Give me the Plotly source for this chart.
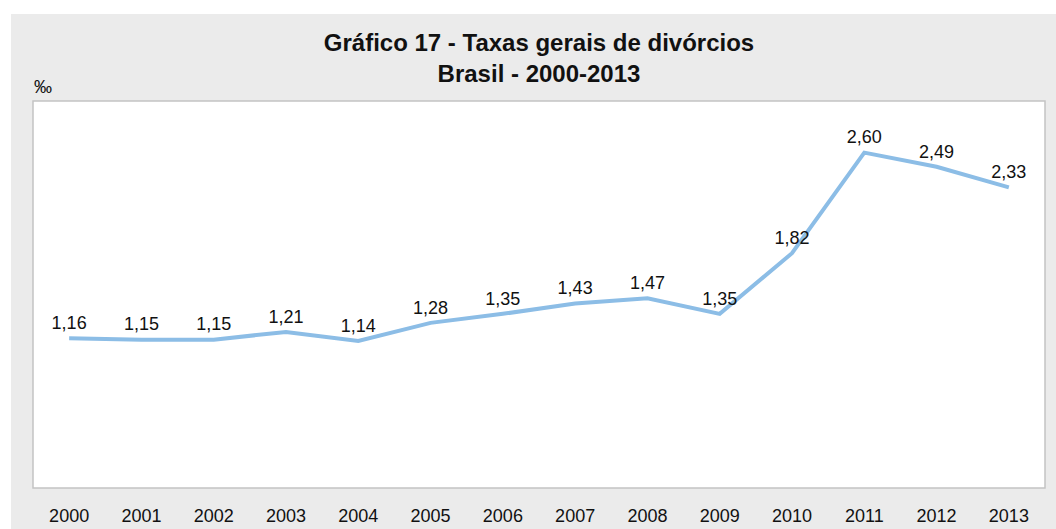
import plotly.graph_objects as go

years = ["2000", "2001", "2002", "2003", "2004", "2005", "2006",
         "2007", "2008", "2009", "2010", "2011", "2012", "2013"]
rates = [1.16, 1.15, 1.15, 1.21, 1.14, 1.28, 1.35,
         1.43, 1.47, 1.35, 1.82, 2.60, 2.49, 2.33]
labels = [f"{v:.2f}".replace(".", ",") for v in rates]

title_text = "Gráfico 17 - Taxas gerais de divórcios<br>Brasil - 2000-2013"
unit_text = "‰"

W, H = 1056, 529
ML, MR, MT, MB = 33, 11, 101, 41
PW, PH = W - ML - MR, H - MT - MB

def px_x(p):
    return (p - ML) / PW

def px_y(p):
    return (H - MB - p) / PH

FONT = "Liberation Sans, Arial, Helvetica, sans-serif"

fig = go.Figure()
fig.add_trace(go.Scatter(
    x=years, y=rates, mode="lines+markers+text",
    text=labels, textposition="top center",
    textfont=dict(size=18, color="#111111", family=FONT),
    line=dict(color="#8CBDE6", width=4),
    marker=dict(size=6, color="rgba(0,0,0,0)"),
    hoverinfo="skip", cliponaxis=False,
))

fig.update_layout(
    width=W, height=H,
    margin=dict(l=ML, r=MR, t=MT, b=MB, pad=0, autoexpand=False),
    paper_bgcolor="white",
    plot_bgcolor="rgba(0,0,0,0)",
    showlegend=False,
    font=dict(family=FONT, color="#111111"),
    title=dict(
        text="<b>" + title_text.replace("<br>", "</b><br><b>") + "</b>",
        x=0.5, xref="paper", xanchor="center",
        y=1 - 51 / H, yref="container", yanchor="top",
        font=dict(size=24, color="#111111", family=FONT),
    ),
    xaxis=dict(
        type="category", range=[-0.5, 13.5], automargin=False,
        showgrid=False, showline=False, zeroline=False, ticks="",
        tickfont=dict(size=18, color="#111111", family=FONT),
        ticklabelstandoff=15, fixedrange=True,
    ),
    yaxis=dict(
        range=[0, 3.0], showgrid=False, showline=False, zeroline=False,
        showticklabels=False, ticks="", fixedrange=True, automargin=False,
    ),
    shapes=[
        dict(type="rect", xref="paper", yref="paper", layer="below",
             x0=px_x(11), x1=px_x(W + 5), y0=px_y(H + 5), y1=px_y(14),
             fillcolor="#EBEBEB", line=dict(width=0)),
        dict(type="rect", xref="paper", yref="paper", layer="below",
             x0=0, x1=1, y0=0, y1=1,
             fillcolor="white", line=dict(color="#C4C4C4", width=1.5)),
    ],
    annotations=[
        dict(text=unit_text, xref="paper", yref="paper",
             x=px_x(32), y=px_y(87), xanchor="left", yanchor="middle",
             showarrow=False, font=dict(size=18, color="#111111", family=FONT)),
    ],
)

fig.write_html("out.html", config={"displayModeBar": False},
               post_script="document.body.style.margin='0';document.body.style.padding='0';")
